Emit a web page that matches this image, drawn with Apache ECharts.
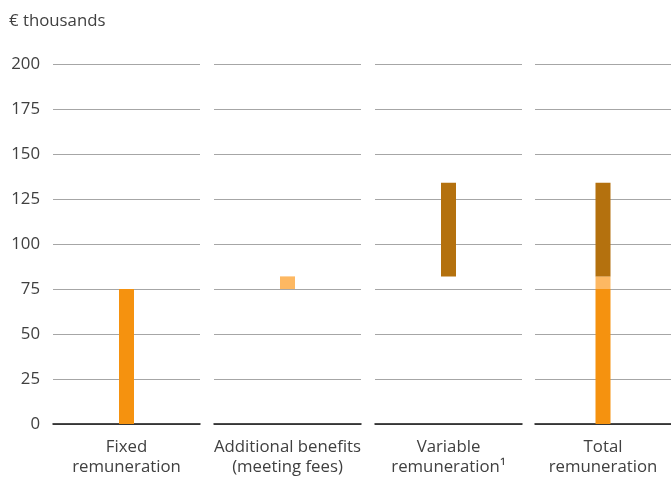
<!DOCTYPE html>
<html>
<head>
<meta charset="utf-8">
<script src="https://cdn.jsdelivr.net/npm/echarts@6/dist/echarts.min.js"></script>
<style>html,body{margin:0;padding:0;background:#fff;}#c{width:671px;height:483px;}</style>
</head>
<body>
<div id="c"></div>
<script>
const categories = ['Fixed\nremuneration', 'Additional benefits\n(meeting fees)', 'Variable\nremuneration¹', 'Total\nremuneration'];
const baseValues = [0, 75, 82, 0];
const fixedValues = [75, 0, 0, 75];
const additionalValues = [0, 7, 0, 7];
const variableValues = [0, 0, 52, 52];
const yTicks = [0, 25, 50, 75, 100, 125, 150, 175, 200];

const FONT = 'Open Sans';
const TXT = '#404040';
const FS = 16.8;
const panelLefts = [53, 214, 375, 535];
const grids = [], xAxes = [], yAxes = [], series = [];
categories.forEach((cat, i) => {
  grids.push({left: panelLefts[i], width: 147, top: 64, height: 360, containLabel: false});
  xAxes.push({
    type: 'category', gridIndex: i, data: [cat],
    axisLine: {lineStyle: {color: '#111', width: 1.5}},
    axisTick: {show: false},
    axisLabel: {color: TXT, fontFamily: FONT, fontSize: FS, lineHeight: 20, margin: 13}
  });
  yAxes.push({
    type: 'value', gridIndex: i, min: yTicks[0], max: yTicks[yTicks.length - 1], interval: 25,
    axisLine: {show: false}, axisTick: {show: false},
    axisLabel: {show: i === 0, color: TXT, fontFamily: FONT, fontSize: FS, margin: 13},
    splitLine: {lineStyle: {color: '#a6a6a6', width: 1}}
  });
  const mk = (name, arr, color) => ({
    type: 'bar', name, xAxisIndex: i, yAxisIndex: i, stack: 's' + i,
    barWidth: 15, data: [arr[i]], silent: true,
    itemStyle: {color}
  });
  series.push(mk('base', baseValues, 'rgba(0,0,0,0)'));
  series.push(mk('fixed', fixedValues, '#F5920F'));
  series.push(mk('additional', additionalValues, '#FDB862'));
  series.push(mk('variable', variableValues, '#B4710E'));
});

const chart = echarts.init(document.getElementById('c'), null, {renderer: 'canvas'});
chart.setOption({
  animation: false,
  backgroundColor: '#fff',
  title: {text: '€ thousands', left: 4, top: 8, textStyle: {color: TXT, fontFamily: FONT, fontSize: FS, fontWeight: 'normal'}},
  grid: grids, xAxis: xAxes, yAxis: yAxes, series
});
</script>
</body>
</html>
